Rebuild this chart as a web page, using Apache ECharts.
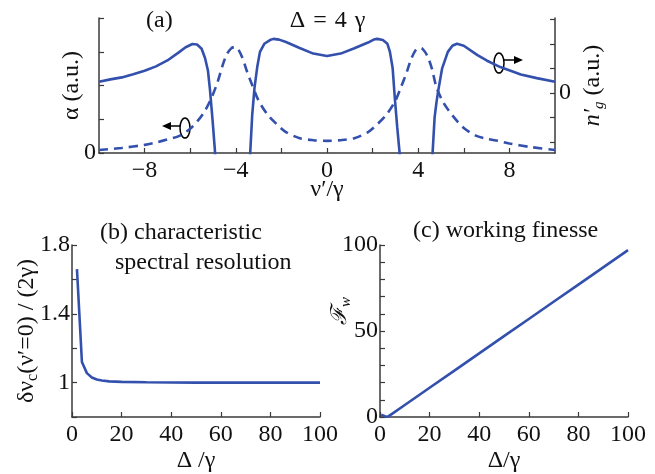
<!DOCTYPE html>
<html>
<head>
<meta charset="utf-8">
<script src="https://cdn.jsdelivr.net/npm/echarts@6/dist/echarts.min.js"></script>
<style>
  html, body { margin: 0; padding: 0; background: #fff; }
  #main { width: 655px; height: 474px; }
</style>
</head>
<body>
<div id="main"></div>
<script>
// panel (a): absorption alpha (dashed, left axis) and group index n'_g (solid, right axis)
var alphaX = [-10, -9, -8, -7.5, -7, -6.5, -6, -5.7, -5.4, -5.1, -4.8, -4.6, -4.4, -4.2, -4.05, -3.9, -3.7, -3.5, -3.25, -3, -2.6, -2.2, -1.8, -1.2, -0.6, 0,
              0.6, 1.2, 1.8, 2.2, 2.6, 3, 3.25, 3.5, 3.7, 3.9, 4.05, 4.2, 4.4, 4.6, 4.8, 5.1, 5.4, 5.7, 6, 6.5, 7, 7.5, 8, 9, 10];
var alphaY = [0.09, 0.15, 0.24, 0.31, 0.4, 0.5, 0.72, 0.93, 1.2, 1.58, 2.1, 2.55, 2.92, 3.1, 3.14, 3.08, 2.8, 2.4, 1.96, 1.55, 1.13, 0.85, 0.62, 0.44, 0.38, 0.36,
              0.38, 0.44, 0.62, 0.85, 1.13, 1.55, 1.96, 2.4, 2.8, 3.06, 3.12, 3.08, 2.88, 2.5, 1.95, 1.5, 1.2, 0.95, 0.74, 0.52, 0.42, 0.36, 0.28, 0.17, 0.09];

var ngX = [-10, -9.5, -9, -8.5, -8, -7.5, -7, -6.5, -6.2, -5.9, -5.7, -5.5, -5.35, -5.22, -5.13, -5.02, -4.92, -4.88,
           -3.4, -3.36, -3.28, -3.18, -3.06, -2.94, -2.75, -2.5, -2.35, -2.1, -1.8, -1.2, -0.6, 0, 0.6, 1.2, 1.8, 2.05, 2.2, 2.45, 2.65, 2.76, 2.88, 2.98, 3.08, 3.18, 3.22,
           4.6, 4.64, 4.72, 4.8, 4.87, 5.05, 5.3, 5.5, 5.7, 6.0, 6.6, 7.0, 7.6, 8.5, 9.2, 10];
var ngY = [0.45, 0.55, 0.63, 0.76, 0.9, 1.08, 1.32, 1.65, 1.86, 1.99, 1.97, 1.8, 1.42, 0.9, 0.1, -1.1, -2.3, -3,
           -3, -2.3, -0.9, 0.2, 1.05, 1.67, 2.0, 2.15, 2.2, 2.17, 2.07, 1.83, 1.6, 1.5, 1.6, 1.82, 2.05, 2.17, 2.2, 2.15, 2.0, 1.67, 1.0, -0.28, -1.4, -2.4, -3,
           -3, -2.3, -1.0, -0.4, 0.04, 1.0, 1.67, 1.92, 2.0, 1.92, 1.54, 1.32, 1.05, 0.75, 0.6, 0.45];

// panel (b): characteristic spectral resolution
var deltaB = [2, 4, 6, 8, 10, 12, 15, 20, 30, 40, 50, 60, 70, 80, 90, 100];
var resB = [1.66, 1.12, 1.055, 1.03, 1.018, 1.012, 1.007, 1.004, 1.002, 1.001, 1, 1, 1, 1, 1, 1];

// panel (c): working finesse
var deltaC = [0.5, 1.5, 2.5, 3.5, 5, 10, 20, 30, 40, 50, 60, 70, 80, 90, 100];
var finC = [1.3, 0.8, 0.1, 0.5, 2, 7, 17, 27, 37, 47, 57, 67, 77, 87, 97];

var ticksA = [-8, -6, -4, -2, 0, 2, 4, 6, 8];
var labelsA = [-8, -4, 0, 4, 8];

function pairs(xs, ys) {
    return xs.map(function (x, i) { return [x, ys[i]]; });
}
function minus(v) {
    return v < 0 ? '\u2212' + (-v) : '' + v;
}

var chartDom = document.getElementById('main');
var myChart = echarts.init(chartDom);
var option;

var FONT = 'Liberation Serif';
var BLUE = '#3350ad';
var AX = { show: true, onZero: false, lineStyle: { color: '#3a3a3a', width: 1.5 } };
var TICK = { show: true, inside: true, length: 5, lineStyle: { color: '#3a3a3a', width: 1.2 } };
var LBL = { color: '#111', fontFamily: FONT, fontSize: 24 };
var NAME = { color: '#111', fontFamily: FONT, fontSize: 24 };
var TTL = { fontFamily: FONT, fontSize: 24, fontWeight: 'normal', color: '#111' };

option = {
    animation: false,
    backgroundColor: '#fff',
    title: [
        { text: '(a)', left: 141, top: 4, textStyle: TTL },
        { text: '\u0394\u2004=\u20044\u2004\u03b3', left: 'center', top: 4, textStyle: TTL },
        { text: '(b) characteristic', left: 95, top: 216, textStyle: TTL },
        { text: 'spectral resolution', left: 110, top: 246, textStyle: TTL },
        { text: '(c) working finesse', left: 408, top: 214, textStyle: TTL }
    ],
    grid: [
        { left: 99, right: 100, top: 18, height: 135 },
        { left: 72, right: 335, top: 245, bottom: 56 },
        { left: 380, right: 27, top: 245, bottom: 55 }
    ],
    xAxis: [
        {
            gridIndex: 0, type: 'value', min: -10, max: 10,
            name: '\u03bd\u2032/\u03b3', nameLocation: 'middle', nameGap: 25, nameMoveOverlap: false, nameTextStyle: NAME,
            axisLine: AX, axisTick: Object.assign({}, TICK, { customValues: ticksA }),
            axisLabel: Object.assign({}, LBL, { customValues: labelsA, margin: 6, formatter: minus }),
            splitLine: { show: false }
        },
        {
            gridIndex: 1, type: 'value', min: 0, max: 100, interval: 20,
            name: '\u0394 /\u03b3', nameLocation: 'middle', nameGap: 32, nameMoveOverlap: false, nameTextStyle: NAME,
            axisLine: AX, axisTick: TICK, axisLabel: Object.assign({}, LBL, { margin: 6 }),
            splitLine: { show: false }
        },
        {
            gridIndex: 2, type: 'value', min: 0, max: 100, interval: 20,
            name: '\u0394/\u03b3', nameLocation: 'middle', nameGap: 32, nameMoveOverlap: false, nameTextStyle: NAME,
            axisLine: AX, axisTick: TICK, axisLabel: Object.assign({}, LBL, { margin: 6 }),
            splitLine: { show: false }
        }
    ],
    yAxis: [
        {
            gridIndex: 0, type: 'value', min: 0, max: 4, interval: 1,
            name: '\u03b1 (a.u.)', nameLocation: 'middle', nameGap: 15, nameRotate: 90, nameMoveOverlap: false,
            nameTextStyle: NAME,
            axisLine: AX, axisTick: TICK,
            axisLabel: Object.assign({}, LBL, { margin: 3, formatter: function (v) { return v === 0 ? '0' : ''; } }),
            splitLine: { show: false }
        },
        {
            gridIndex: 0, type: 'value', position: 'right', min: -2.45, max: 3.05,
            name: '{i|n\u2032}{s|g}{t| (a.u.)}', nameLocation: 'middle', nameGap: 24, nameRotate: 90, nameMoveOverlap: false,
            nameTextStyle: {
                color: '#111', fontFamily: FONT, fontSize: 24,
                rich: {
                    i: { fontFamily: FONT, fontSize: 24, fontStyle: 'italic', color: '#111', lineHeight: 28 },
                    s: { fontFamily: FONT, fontSize: 15, fontStyle: 'italic', color: '#111', verticalAlign: 'bottom', lineHeight: 28 },
                    t: { fontFamily: FONT, fontSize: 24, color: '#111', lineHeight: 28 }
                }
            },
            axisLine: AX, axisTick: Object.assign({}, TICK, { customValues: [-2, -1, 0, 1, 2, 3] }),
            axisLabel: Object.assign({}, LBL, { margin: 4, customValues: [0] }),
            splitLine: { show: false }
        },
        {
            gridIndex: 1, type: 'value', min: 0.8, max: 1.8, interval: 0.2,
            name: '{a|\u03b4\u03bd}{s|c}{a|(\u03bd\u2032=0) / (2\u03b3)}', nameLocation: 'middle', nameGap: 31, nameRotate: 90, nameMoveOverlap: false,
            nameTextStyle: {
                color: '#111', fontFamily: FONT, fontSize: 24,
                rich: {
                    a: { fontFamily: FONT, fontSize: 24, color: '#111', lineHeight: 28 },
                    s: { fontFamily: FONT, fontSize: 16, color: '#111', verticalAlign: 'bottom', lineHeight: 28 }
                }
            },
            axisLine: AX, axisTick: TICK,
            axisLabel: Object.assign({}, LBL, {
                margin: 2,
                formatter: function (v) {
                    var r = Math.round(v * 10) / 10;
                    return (r === 1 || r === 1.4 || r === 1.8) ? '' + r : '';
                }
            }),
            splitLine: { show: false }
        },
        {
            gridIndex: 2, type: 'value', min: 0, max: 100, interval: 10,
            name: '{sp|}{f|\u2131}{s|w}', nameLocation: 'middle', nameGap: 26, nameRotate: 90, nameMoveOverlap: false,
            nameTextStyle: {
                color: '#111', fontSize: 24,
                rich: {
                    sp: { width: 40, lineHeight: 28 },
                    f: { fontFamily: 'DejaVu Serif', fontSize: 22, fontStyle: 'italic', color: '#111', lineHeight: 28 },
                    s: { fontFamily: FONT, fontSize: 15, fontStyle: 'italic', color: '#111', verticalAlign: 'bottom', lineHeight: 28 }
                }
            },
            axisLine: AX, axisTick: TICK,
            axisLabel: Object.assign({}, LBL, {
                margin: 2,
                formatter: function (v) { return (v === 0 || v === 50 || v === 100) ? '' + v : ''; }
            }),
            splitLine: { show: false }
        }
    ],
    series: [
        {
            type: 'line', xAxisIndex: 0, yAxisIndex: 0, data: pairs(alphaX, alphaY),
            showSymbol: false, smooth: 0.3, clip: true,
            lineStyle: { color: BLUE, width: 2.6, type: [9, 6] }
        },
        {
            type: 'line', xAxisIndex: 0, yAxisIndex: 1, data: pairs(ngX, ngY),
            showSymbol: false, clip: true,
            lineStyle: { color: BLUE, width: 2.6 }
        },
        {
            type: 'line', xAxisIndex: 1, yAxisIndex: 2, data: pairs(deltaB, resB),
            showSymbol: false, clip: true,
            lineStyle: { color: BLUE, width: 2.6 }
        },
        {
            type: 'line', xAxisIndex: 2, yAxisIndex: 3, data: pairs(deltaC, finC),
            showSymbol: false, clip: true,
            lineStyle: { color: BLUE, width: 2.6 }
        }
    ],
    graphic: [
        // axis pointer markers of panel (a)
        { type: 'ellipse', shape: { cx: 185, cy: 128, rx: 5, ry: 10 }, style: { fill: 'none', stroke: '#000', lineWidth: 1.5 } },
        { type: 'line', shape: { x1: 180, y1: 126, x2: 169, y2: 126 }, style: { stroke: '#000', lineWidth: 1.5 } },
        { type: 'polygon', shape: { points: [[162, 126], [171, 122], [171, 130]] }, style: { fill: '#000' } },
        { type: 'ellipse', shape: { cx: 499, cy: 63, rx: 5, ry: 10 }, style: { fill: 'none', stroke: '#000', lineWidth: 1.5 } },
        { type: 'line', shape: { x1: 504, y1: 60, x2: 515, y2: 60 }, style: { stroke: '#000', lineWidth: 1.5 } },
        { type: 'polygon', shape: { points: [[523, 60], [514, 56], [514, 64]] }, style: { fill: '#000' } }
    ]
};

option && myChart.setOption(option);
</script>
</body>
</html>
